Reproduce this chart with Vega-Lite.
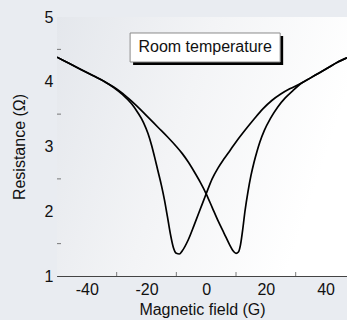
{
  "$schema": "https://vega.github.io/schema/vega-lite/v6.json",
  "width": 290,
  "height": 259,
  "autosize": {"type": "none"},
  "padding": {"left": 57, "top": 17, "right": 0, "bottom": 44},
  "background": "#e9ecf1",
  "config": {
    "view": {"stroke": "#9a9a9a", "strokeWidth": 1},
    "font": "Liberation Sans",
    "axis": {
      "labelFont": "Liberation Sans",
      "titleFont": "Liberation Sans",
      "labelFontSize": 16,
      "titleFontSize": 16,
      "titleFontWeight": "normal",
      "labelColor": "#111",
      "titleColor": "#111",
      "domainColor": "#444",
      "tickColor": "#444",
      "tickSize": -4,
      "grid": true,
      "gridColor": "#b8b8b8",
      "gridDash": [1, 4],
      "gridOpacity": 0.8
    }
  },
  "datasets": {
    "curves": [
      {"branch": "L", "H": -50, "R": 4.38}, {"branch": "L", "H": -46, "R": 4.285}, {"branch": "L", "H": -42, "R": 4.19},
      {"branch": "L", "H": -38, "R": 4.095}, {"branch": "L", "H": -34, "R": 4.00}, {"branch": "L", "H": -31, "R": 3.91},
      {"branch": "L", "H": -28, "R": 3.80}, {"branch": "L", "H": -25, "R": 3.66}, {"branch": "L", "H": -23, "R": 3.53},
      {"branch": "L", "H": -21, "R": 3.37}, {"branch": "L", "H": -19.5, "R": 3.20}, {"branch": "L", "H": -18.3, "R": 3.02},
      {"branch": "L", "H": -17.3, "R": 2.84}, {"branch": "L", "H": -16.2, "R": 2.63}, {"branch": "L", "H": -15, "R": 2.40},
      {"branch": "L", "H": -14, "R": 2.18}, {"branch": "L", "H": -13, "R": 1.92}, {"branch": "L", "H": -12, "R": 1.65},
      {"branch": "L", "H": -11, "R": 1.44}, {"branch": "L", "H": -10, "R": 1.35}, {"branch": "L", "H": -9, "R": 1.34},
      {"branch": "L", "H": -8, "R": 1.39}, {"branch": "L", "H": -6, "R": 1.56}, {"branch": "L", "H": -4, "R": 1.79},
      {"branch": "L", "H": -2, "R": 2.03}, {"branch": "L", "H": 0, "R": 2.27}, {"branch": "L", "H": 2, "R": 2.50},
      {"branch": "L", "H": 4, "R": 2.67}, {"branch": "L", "H": 6, "R": 2.81}, {"branch": "L", "H": 8, "R": 2.94},
      {"branch": "L", "H": 10, "R": 3.07}, {"branch": "L", "H": 13, "R": 3.25}, {"branch": "L", "H": 16, "R": 3.42},
      {"branch": "L", "H": 19, "R": 3.58}, {"branch": "L", "H": 22, "R": 3.71}, {"branch": "L", "H": 25, "R": 3.81},
      {"branch": "L", "H": 28, "R": 3.89}, {"branch": "L", "H": 32, "R": 3.98}, {"branch": "L", "H": 35, "R": 4.06},
      {"branch": "L", "H": 38, "R": 4.14}, {"branch": "L", "H": 41, "R": 4.22}, {"branch": "L", "H": 44, "R": 4.30},
      {"branch": "L", "H": 47.2, "R": 4.37},
      {"branch": "R", "H": -50, "R": 4.38}, {"branch": "R", "H": -46, "R": 4.285}, {"branch": "R", "H": -42, "R": 4.19},
      {"branch": "R", "H": -38, "R": 4.095}, {"branch": "R", "H": -34, "R": 4.00}, {"branch": "R", "H": -31, "R": 3.92},
      {"branch": "R", "H": -28, "R": 3.82}, {"branch": "R", "H": -25, "R": 3.70}, {"branch": "R", "H": -22, "R": 3.57},
      {"branch": "R", "H": -19, "R": 3.43}, {"branch": "R", "H": -16, "R": 3.29}, {"branch": "R", "H": -13, "R": 3.15},
      {"branch": "R", "H": -10, "R": 3.00}, {"branch": "R", "H": -8, "R": 2.89}, {"branch": "R", "H": -6, "R": 2.76},
      {"branch": "R", "H": -4, "R": 2.61}, {"branch": "R", "H": -2, "R": 2.45}, {"branch": "R", "H": 0, "R": 2.27},
      {"branch": "R", "H": 2, "R": 2.06}, {"branch": "R", "H": 4, "R": 1.85}, {"branch": "R", "H": 6, "R": 1.66},
      {"branch": "R", "H": 8, "R": 1.47}, {"branch": "R", "H": 9, "R": 1.39}, {"branch": "R", "H": 10, "R": 1.35},
      {"branch": "R", "H": 10.8, "R": 1.37}, {"branch": "R", "H": 11.5, "R": 1.48}, {"branch": "R", "H": 12.2, "R": 1.70},
      {"branch": "R", "H": 13, "R": 2.00}, {"branch": "R", "H": 14, "R": 2.30}, {"branch": "R", "H": 15, "R": 2.55},
      {"branch": "R", "H": 16, "R": 2.75}, {"branch": "R", "H": 17, "R": 2.92}, {"branch": "R", "H": 18, "R": 3.07},
      {"branch": "R", "H": 19.5, "R": 3.25}, {"branch": "R", "H": 21.5, "R": 3.43}, {"branch": "R", "H": 24, "R": 3.61},
      {"branch": "R", "H": 26.5, "R": 3.75}, {"branch": "R", "H": 29, "R": 3.86}, {"branch": "R", "H": 32, "R": 3.98},
      {"branch": "R", "H": 35, "R": 4.06}, {"branch": "R", "H": 38, "R": 4.14}, {"branch": "R", "H": 41, "R": 4.22},
      {"branch": "R", "H": 44, "R": 4.30}, {"branch": "R", "H": 47.2, "R": 4.37}
    ],
    "xminor": [{"v": -30}, {"v": -10}, {"v": 10}, {"v": 30}],
    "yminor": [{"v": 1.5}, {"v": 2.5}, {"v": 3.5}, {"v": 4.5}],
    "label": [
      {"x1": -50, "x2": 47.2, "y1": 1, "y2": 5, "bx1": -25.5, "bx2": 24.8, "by1": 4.305, "by2": 4.753, "tx": -0.35, "ty": 4.53, "text": "Room temperature"}
    ]
  },
  "layer": [
    {
      "data": {"name": "label"},
      "mark": {"type": "rect", "fill": {"gradient": "linear", "x1": 0, "y1": 0, "x2": 1, "y2": 0.3, "stops": [{"offset": 0, "color": "#e4e7ec"}, {"offset": 0.5, "color": "#f3f4f6"}, {"offset": 1, "color": "#ffffff"}]}},
      "encoding": {
        "x": {"field": "x1", "type": "quantitative", "scale": {"domain": [-50, 47.2], "nice": false, "zero": false}},
        "x2": {"field": "x2"},
        "y": {"field": "y1", "type": "quantitative", "scale": {"domain": [1, 5], "nice": false, "zero": false}},
        "y2": {"field": "y2"}
      }
    },
    {
      "data": {"name": "curves"},
      "mark": {"type": "line", "color": "#000", "strokeWidth": 1.7, "interpolate": "monotone", "clip": true},
      "encoding": {
        "x": {
          "field": "H", "type": "quantitative",
          "scale": {"domain": [-50, 47.2], "nice": false, "zero": false},
          "axis": {"title": "Magnetic field (G)", "values": [-40, -20, 0, 20, 40], "labelPadding": 9, "titlePadding": 4,
                   "labelExpr": "datum.value < 0 ? '-' + abs(datum.value) : '' + datum.value"}
        },
        "y": {
          "field": "R", "type": "quantitative",
          "scale": {"domain": [1, 5], "nice": false, "zero": false},
          "axis": {"title": "Resistance (Ω)", "values": [1, 2, 3, 4, 5], "format": "d", "labelPadding": 8, "titlePadding": 16.5}
        },
        "detail": {"field": "branch"}
      }
    },
    {
      "data": {"name": "xminor"},
      "mark": {"type": "tick", "color": "#444", "orient": "vertical", "size": 4, "thickness": 1, "yOffset": -2},
      "encoding": {
        "x": {"field": "v", "type": "quantitative"},
        "y": {"datum": 1}
      }
    },
    {
      "data": {"name": "yminor"},
      "mark": {"type": "tick", "color": "#444", "orient": "horizontal", "size": 4, "thickness": 1, "xOffset": 2},
      "encoding": {
        "y": {"field": "v", "type": "quantitative"},
        "x": {"datum": -50}
      }
    },
    {
      "data": {"name": "label"},
      "mark": {"type": "rect", "fill": "#000", "xOffset": 3, "x2Offset": 3, "yOffset": 3, "y2Offset": 3},
      "encoding": {
        "x": {"field": "bx1", "type": "quantitative"},
        "x2": {"field": "bx2"},
        "y": {"field": "by1", "type": "quantitative"},
        "y2": {"field": "by2"}
      }
    },
    {
      "data": {"name": "label"},
      "mark": {"type": "rect", "fill": "#ffffff", "stroke": "#8a8a8a", "strokeWidth": 1},
      "encoding": {
        "x": {"field": "bx1", "type": "quantitative"},
        "x2": {"field": "bx2"},
        "y": {"field": "by1", "type": "quantitative"},
        "y2": {"field": "by2"}
      }
    },
    {
      "data": {"name": "label"},
      "mark": {"type": "text", "font": "Liberation Sans", "fontSize": 16, "color": "#111", "align": "center", "baseline": "middle"},
      "encoding": {
        "x": {"field": "tx", "type": "quantitative"},
        "y": {"field": "ty", "type": "quantitative"},
        "text": {"field": "text"}
      }
    }
  ]
}
